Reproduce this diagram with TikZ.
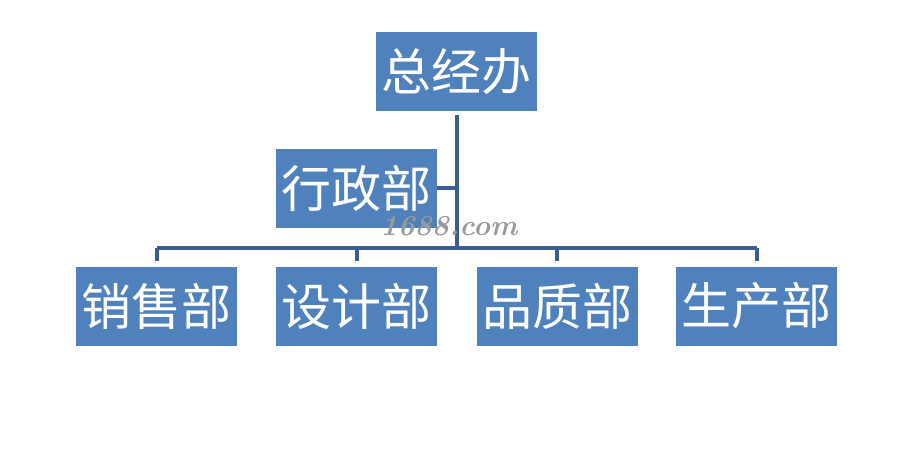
\documentclass[tikz,border=0pt]{standalone}
\usepackage{fontspec}
\newfontfamily\cjk{Noto Sans CJK SC}
\usetikzlibrary{positioning,calc}
\definecolor{DeptFill}{HTML}{4F81BD}
\definecolor{DeptLine}{HTML}{3A5F8E}
\definecolor{MarkGray}{HTML}{9A9A9A}

\begin{document}
\begin{tikzpicture}[x=1pt,y=-1pt,
  dept/.style={rectangle,fill=DeptFill,text=white,inner sep=0pt,
    minimum width=161pt,minimum height=79pt,
    font=\cjk\fontsize{50}{50}\selectfont},
  link/.style={DeptLine,line width=4pt}]
  \useasboundingbox (0,0) rectangle (899,448);
  % head and staff office
  \node[dept] (head)  at (456.5,71.5) {总经办};
  \node[dept] (admin) at (356.5,188) {行政部};
  % departments
  \node[dept] (sales) at (156.5,306) {销售部};
  \node[dept] (design) at (356.5,306) {设计部};
  \node[dept] (quality) at (557,306) {品质部};
  \node[dept] (prod) at (756.5,306) {生产部};
  \coordinate (bus) at (456.5,248);
  \draw[link] ([yshift=-4pt]head.south) -- (head.south |- bus);
  \draw[link] (admin.east) -- (admin.east -| head.south);
  \draw[link] (sales.north |- bus) -- (prod.north |- bus);
  \foreach \d in {sales,design,quality,prod}
    \draw[link] ([yshift=5pt]\d.north) -- (\d.north |- bus);
  \node[font=\bfseries\itshape\fontsize{29}{29}\selectfont,text=MarkGray] (mark) at (449,226) {1688.com};
\end{tikzpicture}
\end{document}
